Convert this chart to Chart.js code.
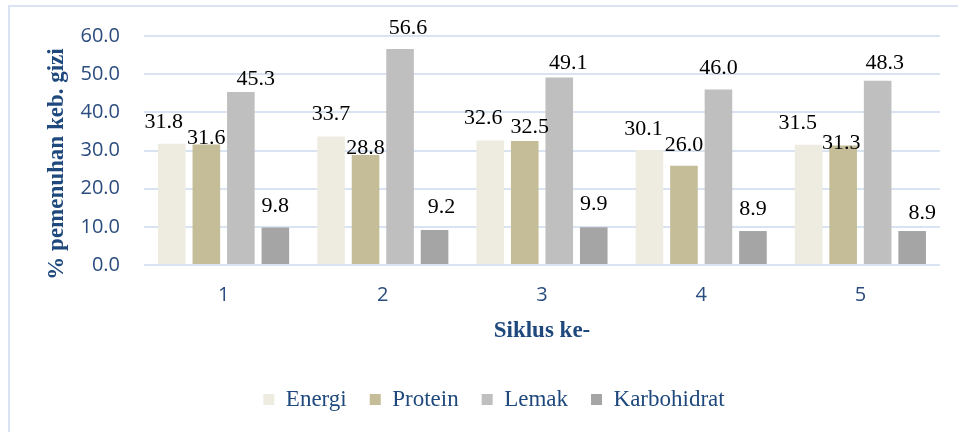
<!DOCTYPE html>
<html><head><meta charset="utf-8">
<script src="https://cdn.jsdelivr.net/npm/chart.js@4"></script>
<style>
html,body{margin:0;padding:0;background:#fff;}
#wrap{position:relative;width:958px;height:432px;overflow:hidden;background:#fff;}
#frame{position:absolute;left:8px;top:5px;width:1200px;height:800px;border-left:2px solid #DAE3F3;border-top:2px solid #DAE3F3;}
canvas{position:absolute;left:0;top:0;}
</style></head><body>
<div id="wrap"><div id="frame"></div><canvas id="c" width="958" height="432" style="width:958px;height:432px"></canvas></div>
<script>
const categories = ['1', '2', '3', '4', '5'];
const seriesNames = ['Energi', 'Protein', 'Lemak', 'Karbohidrat'];
const energi = [31.8, 33.7, 32.6, 30.1, 31.5];
const protein = [31.6, 28.8, 32.5, 26.0, 31.3];
const lemak = [45.3, 56.6, 49.1, 46.0, 48.3];
const karbohidrat = [9.8, 9.2, 9.9, 8.9, 8.9];
const yTicks = [0, 10, 20, 30, 40, 50, 60];
const xTitle = 'Siklus ke-';
const yTitle = '% pemenuhan keb. gizi';

const colors = ['#EEECE1', '#C4BD97', '#BFBFBF', '#A5A5A5'];
// label nudges [dx, dy] per series per category (styling only)
const labelNudge = [
  [[-8, 0], [0, -1], [-7, -1], [-6, 0], [-11, 0]],
  [[0, 15], [0, 15], [5, 8], [0, 1], [-2, 19]],
  [[15, 8], [8, 1], [9, 7], [0, 0], [7, 4]],
  [[0, 0], [7, -1], [0, -2], [0, 0], [10, 4]]
];

const BOTTOM_PAD = 11;

const overlay = {
  id: 'overlay',
  afterDatasetsDraw(chart) {
    const ctx = chart.ctx;
    ctx.save();
    ctx.font = '22px "Liberation Serif"';
    ctx.fillStyle = '#000';
    ctx.textAlign = 'center';
    ctx.textBaseline = 'alphabetic';
    chart.data.datasets.forEach((ds, i) => {
      const meta = chart.getDatasetMeta(i);
      meta.data.forEach((bar, j) => {
        const n = labelNudge[i][j];
        ctx.fillText(ds.data[j].toFixed(1), bar.x + n[0], bar.y - 23 + n[1] + 7.4);
      });
    });
    const ca = chart.chartArea;
    ctx.fillStyle = '#1F497D';
    ctx.font = 'bold 23px "Liberation Serif"';
    ctx.textBaseline = 'middle';
    ctx.fillText(xTitle, (ca.left + ca.right) / 2, ca.bottom + 66);
    ctx.translate(57, ca.top + 128);
    ctx.rotate(-Math.PI / 2);
    ctx.fillText(yTitle, 0, 0);
    ctx.restore();
  }
};

const seriesData = [energi, protein, lemak, karbohidrat];
new Chart(document.getElementById('c'), {
  type: 'bar',
  data: {
    labels: categories,
    datasets: seriesNames.map((name, i) => ({
      label: name,
      data: seriesData[i],
      backgroundColor: colors[i],
      borderWidth: 0,
      categoryPercentage: 0.867,
      barPercentage: 0.8
    }))
  },
  options: {
    responsive: false,
    animation: false,
    devicePixelRatio: 1,
    layout: { padding: { left: 48, right: 18, top: 35, bottom: BOTTOM_PAD } },
    plugins: {
      legend: {
        position: 'bottom',
        labels: {
          font: { family: '"Liberation Serif"', size: 23 },
          color: '#1F497D',
          boxWidth: 11,
          boxHeight: 11,
          padding: 23
        }
      },
      tooltip: { enabled: false }
    },
    scales: {
      x: {
        grid: { display: false, drawTicks: false },
        border: { display: false },
        ticks: { font: { family: '"Open Sans"', size: 20 }, color: '#2B4C7E', padding: 18 },
        afterFit(scale) {
          const lh = scale.chart.legend ? scale.chart.legend.height : 60;
          scale.height = 432 - 265 - lh - BOTTOM_PAD;
        }
      },
      y: {
        min: 0, max: 60,
        afterBuildTicks(scale) { scale.ticks = yTicks.map(v => ({ value: v })); },
        afterFit(scale) { scale.width = 96; },
        grid: { color: '#D9E3F2', lineWidth: 2, drawTicks: false },
        border: { display: false },
        ticks: {
          font: { family: '"Open Sans"', size: 20 },
          color: '#2B4C7E',
          padding: 24,
          callback: v => Number(v).toFixed(1)
        }
      }
    }
  },
  plugins: [overlay]
});
</script>
</body></html>
